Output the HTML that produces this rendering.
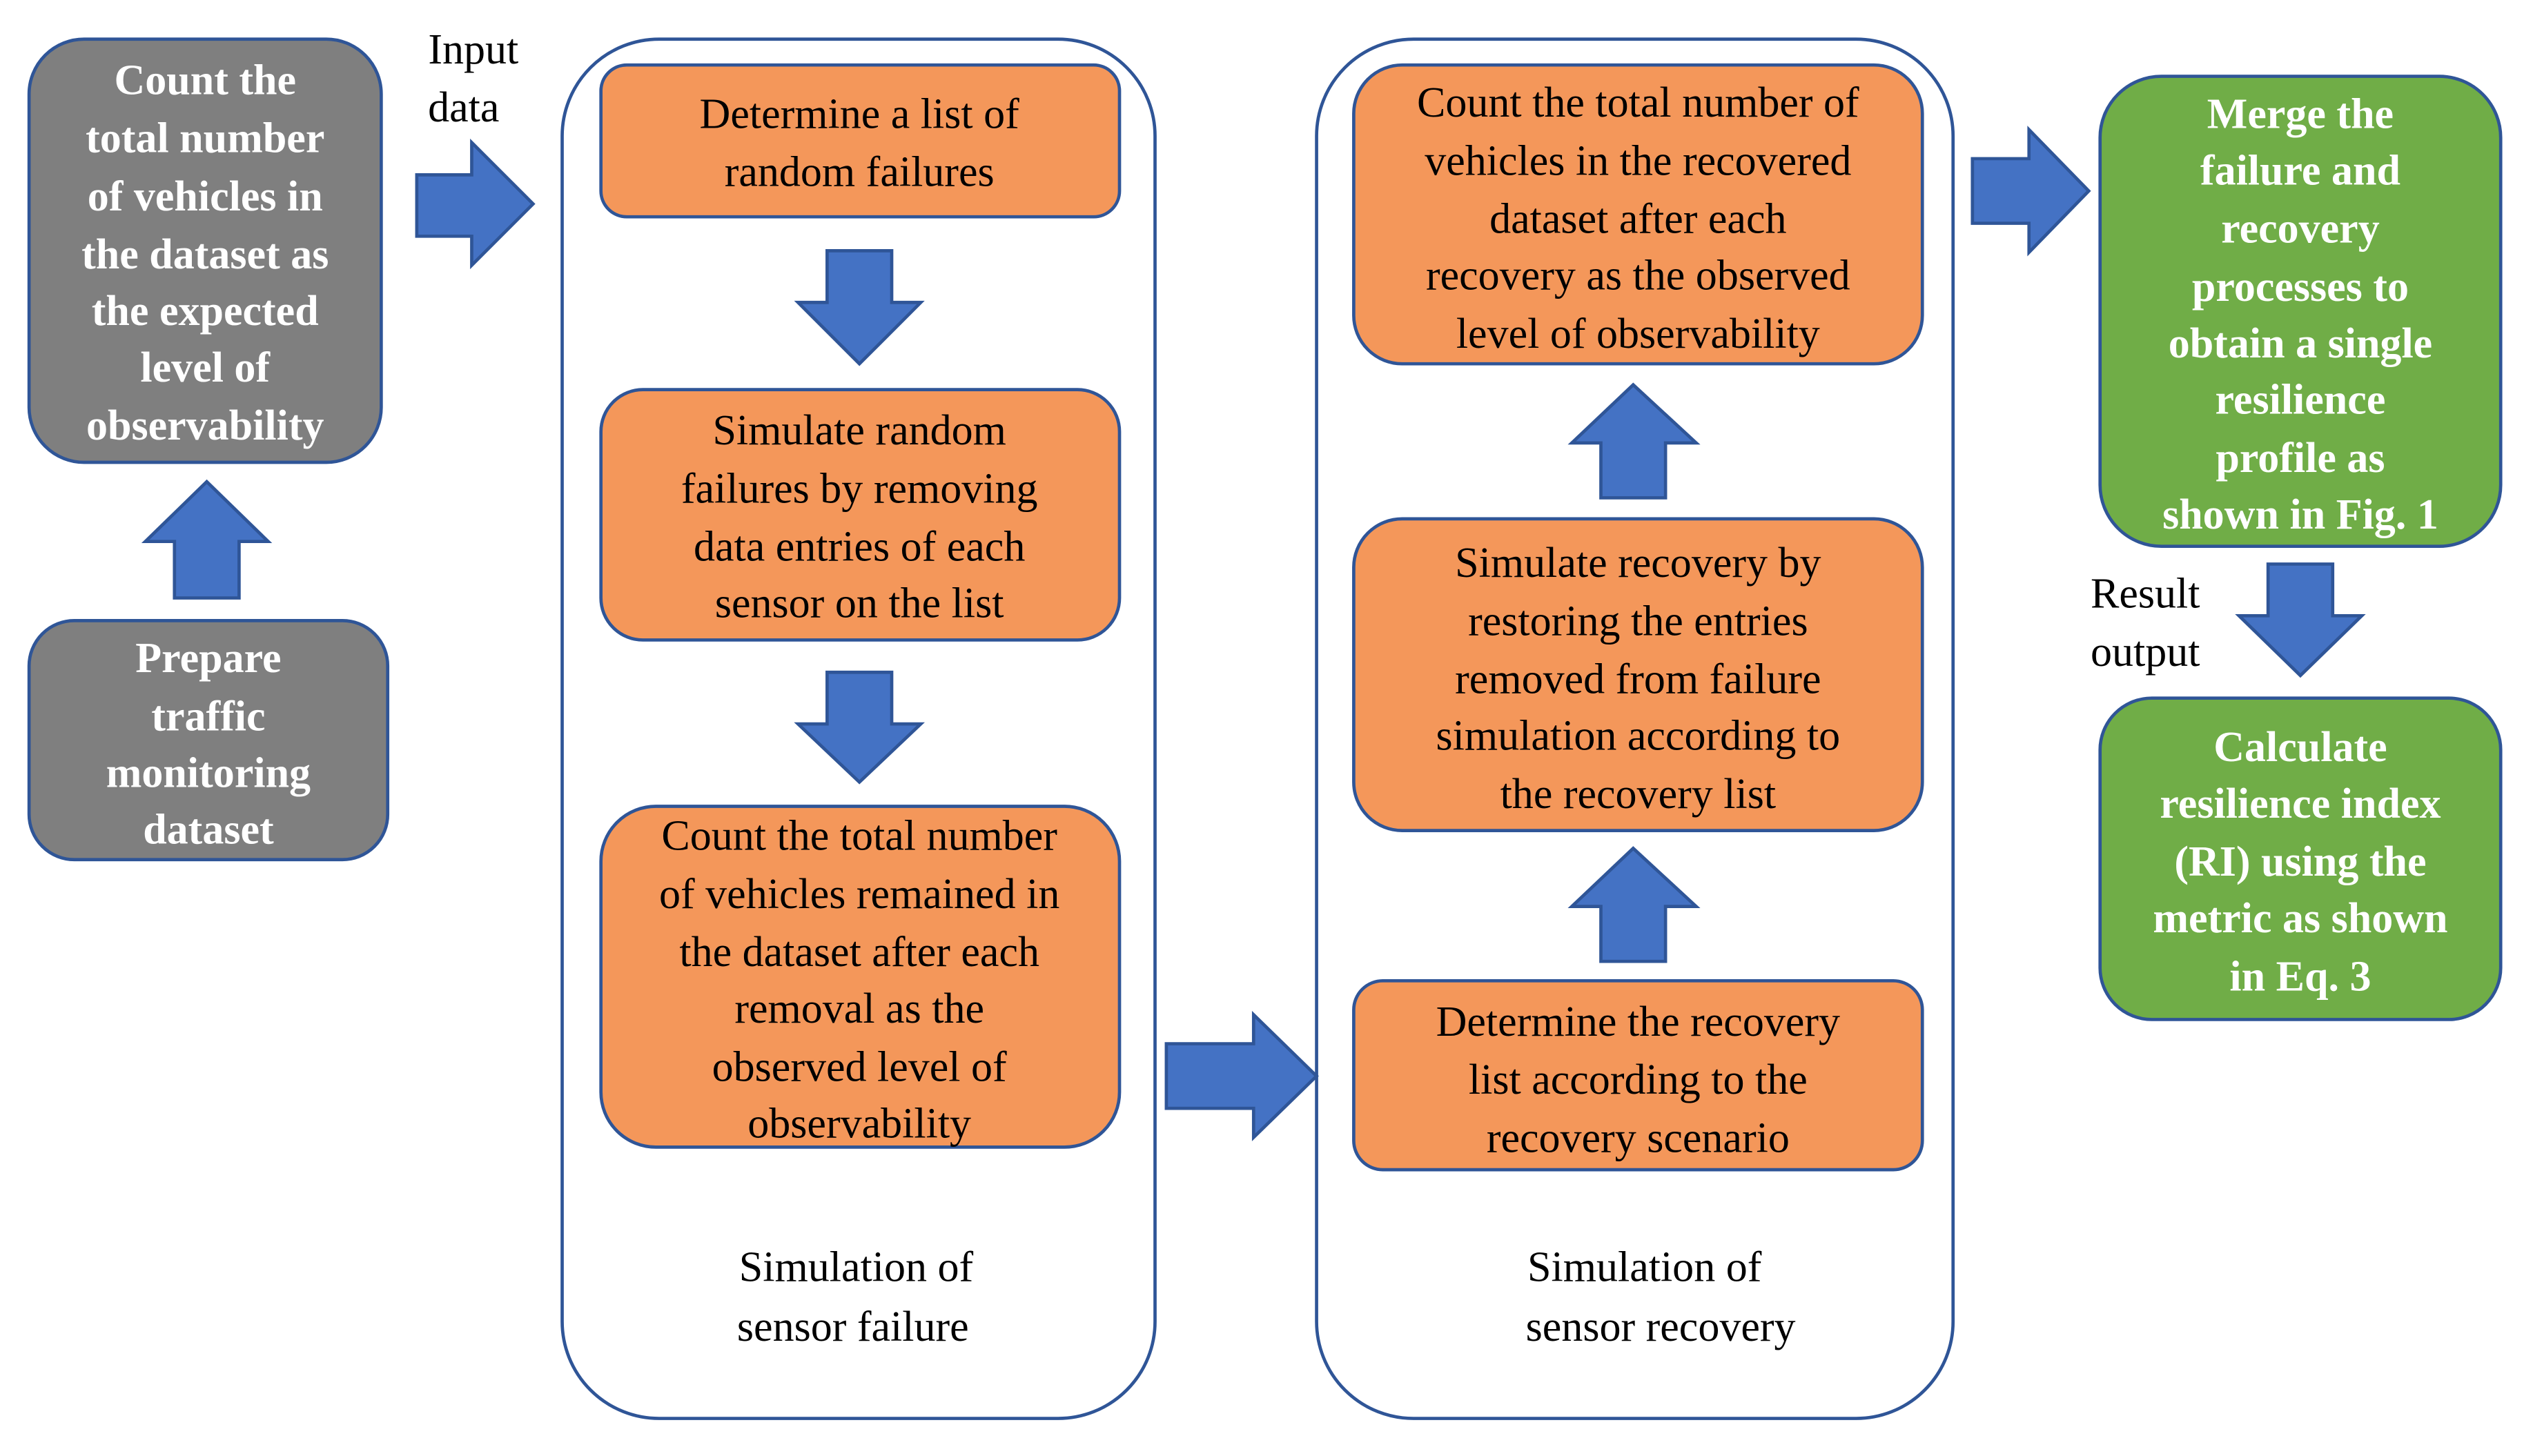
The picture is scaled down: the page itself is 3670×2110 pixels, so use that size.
<!DOCTYPE html>
<html><head><meta charset="utf-8"><style>
html,body{margin:0;padding:0;background:#fff;}
svg{display:block;}
svg text{font-family:'Liberation Serif','Times New Roman',Times,serif !important;font-size:26.5px;text-anchor:middle;}
.w{fill:#fff;font-weight:bold;}
.k{fill:#000;}
</style></head><body>
<svg width="3670" height="2110" viewBox="0 0 1568 901" xmlns="http://www.w3.org/2000/svg" font-family="Liberation Serif, Times New Roman, serif">
<rect width="1568" height="901" fill="#fff"/>
<g stroke="#2f5597" stroke-width="2">
<rect x="18" y="24" width="218" height="262" rx="34" fill="#7f7f7f"/>
<rect x="18" y="384" width="222" height="148" rx="28" fill="#7f7f7f"/>
<rect x="348" y="24" width="367" height="854" rx="60" fill="none"/>
<rect x="815" y="24" width="394" height="854" rx="60" fill="none"/>
<g fill="#f4975a">
<rect x="372" y="40" width="321" height="94" rx="16"/>
<rect x="372" y="241" width="321" height="155" rx="26"/>
<rect x="372" y="499" width="321" height="211" rx="34"/>
<rect x="838" y="40" width="352" height="185" rx="30"/>
<rect x="838" y="321" width="352" height="193" rx="30"/>
<rect x="838" y="607" width="352" height="117" rx="18"/>
</g>
<rect x="1300" y="47" width="248" height="291" rx="38" fill="#70ad47"/>
<rect x="1300" y="432" width="248" height="199" rx="32" fill="#70ad47"/>
<g fill="#4472c4">
<polygon points="128,298 166,335 148,335 148,370 108,370 108,335 90,335"/>
<polygon points="258,108 292,108 292,88 330,126 292,164 292,146 258,146"/>
<polygon points="512,155 552,155 552,187 570,187 532,225 494,187 512,187"/>
<polygon points="512,416 552,416 552,448 570,448 532,484 494,448 512,448"/>
<polygon points="722,646 776,646 776,628 815,666 776,704 776,686 722,686"/>
<polygon points="1011,238 1050,274 1031,274 1031,308 991,308 991,274 973,274"/>
<polygon points="1011,525 1050,561 1031,561 1031,595 991,595 991,561 973,561"/>
<polygon points="1221,98 1256,98 1256,80 1293,118 1256,156 1256,138 1221,138"/>
<polygon points="1404,349 1444,349 1444,381 1462,381 1424,418 1386,381 1404,381"/>
</g>
</g>
<g class="w" font-family="Liberation Serif, Times New Roman, serif">
<text x="127" y="58">Count the</text>
<text x="127" y="94">total number</text>
<text x="127" y="130">of vehicles in</text>
<text x="127" y="166">the dataset as</text>
<text x="127" y="201">the expected</text>
<text x="127" y="236">level of</text>
<text x="127" y="272">observability</text>
<text x="129" y="416">Prepare</text>
<text x="129" y="452">traffic</text>
<text x="129" y="487">monitoring</text>
<text x="129" y="522">dataset</text>
<text x="1424" y="79">Merge the</text>
<text x="1424" y="114">failure and</text>
<text x="1424" y="150">recovery</text>
<text x="1424" y="186">processes to</text>
<text x="1424" y="221">obtain a single</text>
<text x="1424" y="256">resilience</text>
<text x="1424" y="292">profile as</text>
<text x="1424" y="327">shown in Fig. 1</text>
<text x="1424" y="471">Calculate</text>
<text x="1424" y="506">resilience index</text>
<text x="1424" y="542">(RI) using the</text>
<text x="1424" y="577">metric as shown</text>
<text x="1424" y="613">in Eq. 3</text>
</g>
<g class="k" font-family="Liberation Serif, Times New Roman, serif">
<text x="293" y="39">Input</text>
<text x="287" y="75">data</text>
<text x="1328" y="376">Result</text>
<text x="1328" y="412">output</text>
<text x="532" y="79">Determine a list of</text>
<text x="532" y="115">random failures</text>
<text x="532" y="275">Simulate random</text>
<text x="532" y="311">failures by removing</text>
<text x="532" y="347">data entries of each</text>
<text x="532" y="382">sensor on the list</text>
<text x="532" y="526">Count the total number</text>
<text x="532" y="562">of vehicles remained in</text>
<text x="532" y="598">the dataset after each</text>
<text x="532" y="633">removal as the</text>
<text x="532" y="669">observed level of</text>
<text x="532" y="704">observability</text>
<text x="530" y="793">Simulation of</text>
<text x="528" y="830">sensor failure</text>
<text x="1014" y="72">Count the total number of</text>
<text x="1014" y="108">vehicles in the recovered</text>
<text x="1014" y="144">dataset after each</text>
<text x="1014" y="179">recovery as the observed</text>
<text x="1014" y="215">level of observability</text>
<text x="1014" y="357">Simulate recovery by</text>
<text x="1014" y="393">restoring the entries</text>
<text x="1014" y="429">removed from failure</text>
<text x="1014" y="464">simulation according to</text>
<text x="1014" y="500">the recovery list</text>
<text x="1014" y="641">Determine the recovery</text>
<text x="1014" y="677">list according to the</text>
<text x="1014" y="713">recovery scenario</text>
<text x="1018" y="793">Simulation of</text>
<text x="1028" y="830">sensor recovery</text>
</g>
</svg>
</body></html>
